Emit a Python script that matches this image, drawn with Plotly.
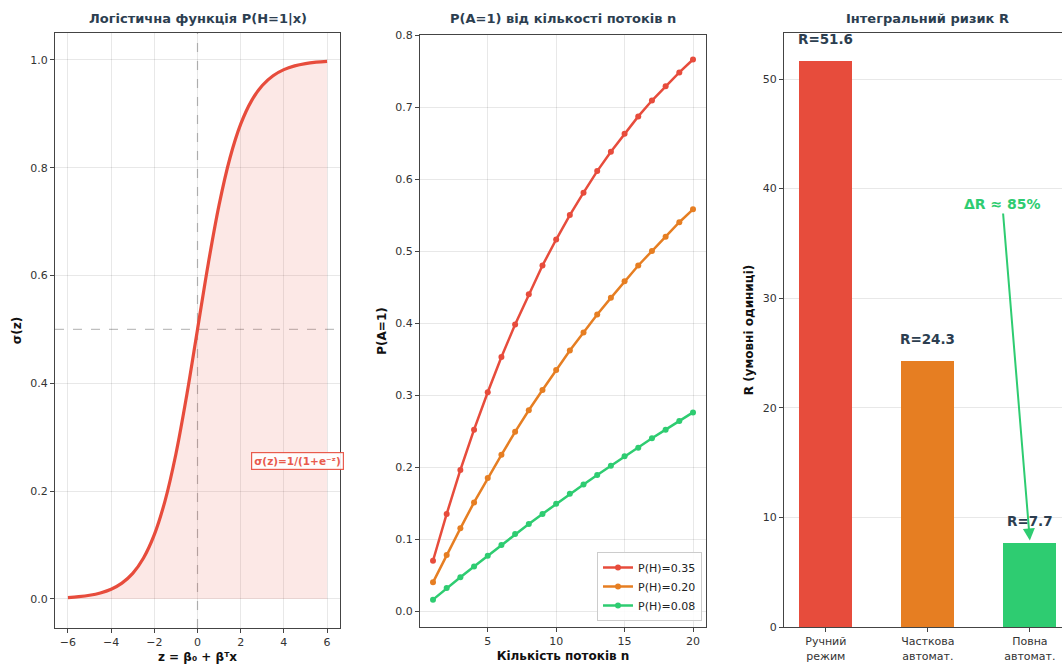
import plotly.graph_objects as go

# ---------------- data ----------------
z_vals = [-6, -5.5, -5, -4.5, -4, -3.5, -3, -2.5, -2, -1.5, -1, -0.5, 0,
          0.5, 1, 1.5, 2, 2.5, 3, 3.5, 4, 4.5, 5, 5.5, 6]
sigma_vals = [0.0025, 0.0041, 0.0067, 0.0110, 0.0180, 0.0293, 0.0474, 0.0759,
              0.1192, 0.1824, 0.2689, 0.3775, 0.5, 0.6225, 0.7311, 0.8176,
              0.8808, 0.9241, 0.9526, 0.9707, 0.9820, 0.9890, 0.9933, 0.9959, 0.9975]

n_vals = list(range(1, 21))
pa_035 = [0.070, 0.135, 0.196, 0.252, 0.304, 0.353, 0.398, 0.440, 0.480, 0.516,
          0.550, 0.581, 0.611, 0.638, 0.663, 0.687, 0.709, 0.729, 0.748, 0.766]
pa_020 = [0.040, 0.078, 0.115, 0.151, 0.185, 0.217, 0.249, 0.279, 0.307, 0.335,
          0.362, 0.387, 0.412, 0.435, 0.458, 0.480, 0.500, 0.520, 0.540, 0.558]
pa_008 = [0.016, 0.032, 0.047, 0.062, 0.077, 0.092, 0.107, 0.121, 0.135, 0.149,
          0.163, 0.176, 0.189, 0.202, 0.215, 0.227, 0.240, 0.252, 0.264, 0.276]
series_names = ["P(H)=0.35", "P(H)=0.20", "P(H)=0.08"]

risk_categories = ["Ручний<br>режим", "Часткова<br>автомат.", "Повна<br>автомат."]
risk_values = [51.6, 24.3, 7.7]
risk_labels = ["R=51.6", "R=24.3", "R=7.7"]

RED, ORANGE, GREEN = "#e74c3c", "#e67e22", "#2ecc71"
TITLE_C = "#2c3e50"
FONT = "DejaVu Sans"
W, H = 1062, 664

fig = go.Figure()

# ---------------- panel 1 ----------------
fig.add_trace(go.Scatter(x=z_vals, y=sigma_vals, mode="lines", line=dict(color=RED, width=3.2, shape="spline"),
                         fill="tozeroy", fillcolor="rgba(231,76,60,0.13)", xaxis="x", yaxis="y", showlegend=False))

# ---------------- panel 2 ----------------
for vals, col, nm in zip([pa_035, pa_020, pa_008], [RED, ORANGE, GREEN], series_names):
    fig.add_trace(go.Scatter(x=n_vals, y=vals, mode="lines+markers", name=nm,
                             line=dict(color=col, width=2.5), marker=dict(color=col, size=6),
                             xaxis="x2", yaxis="y2"))

# ---------------- panel 3 ----------------
fig.add_trace(go.Bar(x=[0, 1, 2], y=risk_values, width=0.52,
                     marker=dict(color=[RED, ORANGE, GREEN], line=dict(width=0)),
                     xaxis="x3", yaxis="y3", showlegend=False))

def px_x(p):
    return p / W

def px_y(p):
    return 1 - p / H

axis_common = dict(showline=True, linecolor="#444", linewidth=1.2,
                   ticks="outside", ticklen=4, tickcolor="#444", tickwidth=1,
                   gridcolor="rgba(0,0,0,0.09)", gridwidth=1, zeroline=False,
                   tickfont=dict(family=FONT, size=11, color="#333"), automargin=False)
lab_font = dict(family=FONT, size=12, color="#111")

fig.update_layout(
    width=W, height=H, margin=dict(l=0, r=0, t=0, b=0),
    paper_bgcolor="white", plot_bgcolor="white",
    font=dict(family=FONT, color="#222"),
    xaxis=dict(domain=[px_x(55), px_x(340)], range=[-6.6, 6.6], tickvals=[-6, -4, -2, 0, 2, 4, 6],
               ticktext=["−6", "−4", "−2", "0", "2", "4", "6"], mirror=True,
               title=dict(text="<b>z = β₀ + βᵀx</b>", font=lab_font, standoff=4),
               anchor="y", **axis_common),
    yaxis=dict(domain=[px_y(628), px_y(33)], range=[-0.054, 1.05], tickvals=[0, 0.2, 0.4, 0.6, 0.8, 1.0],
               ticktext=["0.0", "0.2", "0.4", "0.6", "0.8", "1.0"], mirror=True,
               title=dict(text="<b>σ(z)</b>", font=lab_font, standoff=6),
               anchor="x", **axis_common),
    xaxis2=dict(domain=[px_x(420), px_x(706)], range=[0.05, 20.95], tickvals=[5, 10, 15, 20], mirror=True,
                title=dict(text="<b>Кількість потоків n</b>", font=lab_font, standoff=4),
                anchor="y2", **axis_common),
    yaxis2=dict(domain=[px_y(627), px_y(35)], range=[-0.022, 0.8], tickvals=[0, 0.1, 0.2, 0.3, 0.4, 0.5, 0.6, 0.7, 0.8],
                ticktext=["0.0", "0.1", "0.2", "0.3", "0.4", "0.5", "0.6", "0.7", "0.8"], mirror=True,
                title=dict(text="<b>P(A=1)</b>", font=lab_font, standoff=6),
                anchor="x2", **axis_common),
    xaxis3=dict(domain=[px_x(784), 1.0], range=[-0.41, 2.315], tickvals=[0, 1, 2], ticktext=risk_categories,
                showgrid=False, anchor="y3", mirror=True, **axis_common),
    yaxis3=dict(domain=[px_y(627), px_y(33)], range=[0, 54.2], tickvals=[0, 10, 20, 30, 40, 50],
                title=dict(text="<b>R (умовні одиниці)</b>", font=lab_font, standoff=6),
                anchor="x3", mirror=False, **axis_common),
    legend=dict(x=px_x(702), y=px_y(621), xanchor="right", yanchor="bottom",
                bgcolor="rgba(255,255,255,0.85)", bordercolor="#ccc", borderwidth=1,
                font=dict(family=FONT, size=11, color="#222"), tracegroupgap=0, itemwidth=30),
    bargap=0,
)

# dashed reference lines in panel 1
fig.add_shape(type="line", xref="x", yref="y domain", x0=0, x1=0, y0=0, y1=1,
              line=dict(color="rgba(128,128,128,0.5)", width=1.2, dash="dash"), layer="below")
fig.add_shape(type="line", xref="x domain", yref="y", x0=0, x1=1, y0=0.5, y1=0.5,
              line=dict(color="rgba(128,128,128,0.5)", width=1.2, dash="dash"), layer="below")

# titles
titles = [("<b>Логістична функція P(H=1|x)</b>", (55 + 340) / 2),
          ("<b>P(A=1) від кількості потоків n</b>", (420 + 706) / 2),
          ("<b>Інтегральний ризик R</b>", (784 + 1071) / 2)]
for t, cx in titles:
    fig.add_annotation(text=t, xref="paper", yref="paper",
                       x=px_x(cx), y=px_y(18), xanchor="center", yanchor="middle", showarrow=False,
                       font=dict(family=FONT, size=13, color=TITLE_C))

# formula box
fig.add_annotation(text="<b>σ(z)=1/(1+e⁻ᶻ)</b>", xref="x", yref="y", x=4.65, y=0.256, showarrow=False,
                   font=dict(family=FONT, size=10.5, color=RED), bgcolor="white",
                   bordercolor=RED, borderwidth=1.2, borderpad=2, opacity=0.9)

# bar value labels
for i, (v, lab) in enumerate(zip(risk_values, risk_labels)):
    fig.add_annotation(text=f"<b>{lab}</b>", xref="x3", yref="y3", x=i, y=v, yshift=22, showarrow=False,
                       font=dict(family=FONT, size=13.5, color=TITLE_C))

# delta arrow
fig.add_annotation(text="<b>ΔR ≈ 85%</b>", xref="x3", yref="y3", x=2, y=7.9,
                   axref="x3", ayref="y3", ax=1.73, ay=38.6, showarrow=True,
                   arrowhead=2, arrowsize=1.2, arrowwidth=2, arrowcolor=GREEN,
                   font=dict(family=FONT, size=14, color=GREEN))

fig.write_html("out.html", config={"displayModeBar": False},
               post_script="document.body.style.margin='0';document.body.style.overflow='hidden';")
